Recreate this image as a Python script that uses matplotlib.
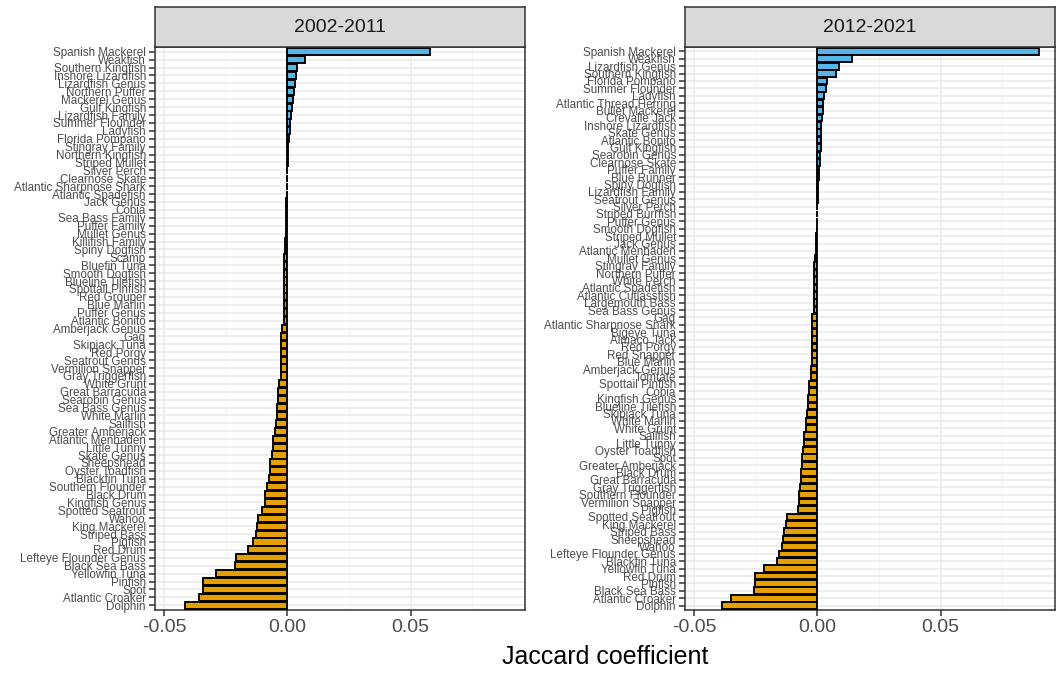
import matplotlib
matplotlib.use("Agg")
import matplotlib.pyplot as plt
import numpy as np

plt.rcParams['font.family'] = ['Liberation Sans', 'DejaVu Sans']

# ---------------- data ----------------
species_2002 = [
    "Spanish Mackerel", "Weakfish", "Southern Kingfish", "Inshore Lizardfish",
    "Lizardfish Genus", "Northern Puffer", "Mackerel Genus", "Gulf Kingfish",
    "Lizardfish Family", "Summer Flounder", "Ladyfish", "Florida Pompano",
    "Stingray Family", "Northern Kingfish", "Striped Mullet", "Silver Perch",
    "Clearnose Skate", "Atlantic Sharpnose Shark", "Atlantic Spadefish",
    "Jack Genus", "Cobia", "Sea Bass Family", "Puffer Family", "Mullet Genus",
    "Killifish Family", "Spiny Dogfish", "Scamp", "Bluefin Tuna",
    "Smooth Dogfish", "Blueline Tilefish", "Spottail Pinfish", "Red Grouper",
    "Blue Marlin", "Puffer Genus", "Atlantic Bonito", "Amberjack Genus", "Gag",
    "Skipjack Tuna", "Red Porgy", "Seatrout Genus", "Vermilion Snapper",
    "Gray Triggerfish", "White Grunt", "Great Barracuda", "Searobin Genus",
    "Sea Bass Genus", "White Marlin", "Sailfish", "Greater Amberjack",
    "Atlantic Menhaden", "Little Tunny", "Skate Genus", "Sheepshead",
    "Oyster Toadfish", "Blackfin Tuna", "Southern Flounder", "Black Drum",
    "Kingfish Genus", "Spotted Seatrout", "Wahoo", "King Mackerel",
    "Striped Bass", "Pigfish", "Red Drum", "Lefteye Flounder Genus",
    "Black Sea Bass", "Yellowfin Tuna", "Pinfish", "Spot", "Atlantic Croaker",
    "Dolphin",
]
jaccard_2002 = [
    0.0578, 0.0070, 0.0039, 0.0035, 0.0032, 0.0027, 0.0022, 0.0018,
    0.0016, 0.0011, 0.0009, 0.0005, 0.0003, 0.0002, 0.0001, 0.0000,
    -0.0001, -0.0002, -0.0003, -0.0004, -0.0005, -0.0005, -0.0006, -0.0007,
    -0.0008, -0.0009, -0.0012, -0.0015, -0.0015, -0.0015, -0.0015, -0.0015,
    -0.0015, -0.0015, -0.0016, -0.0023, -0.0025, -0.0025, -0.0026, -0.0026,
    -0.0027, -0.0028, -0.0035, -0.0038, -0.0038, -0.0042, -0.0043, -0.0047,
    -0.0049, -0.0059, -0.0059, -0.0061, -0.0070, -0.0072, -0.0074, -0.0082,
    -0.0092, -0.0092, -0.0103, -0.0119, -0.0123, -0.0126, -0.0139, -0.0162,
    -0.0209, -0.0214, -0.0292, -0.0341, -0.0343, -0.0358, -0.0416,
]

species_2012 = [
    "Spanish Mackerel", "Weakfish", "Lizardfish Genus", "Southern Kingfish",
    "Florida Pompano", "Summer Flounder", "Ladyfish", "Atlantic Thread Herring",
    "Bullet Mackerel", "Crevalle Jack", "Inshore Lizardfish", "Skate Genus",
    "Atlantic Bonito", "Gulf Kingfish", "Searobin Genus", "Clearnose Skate",
    "Puffer Family", "Blue Runner", "Spiny Dogfish", "Lizardfish Family",
    "Seatrout Genus", "Silver Perch", "Striped Burrfish", "Puffer Genus",
    "Smooth Dogfish", "Striped Mullet", "Jack Genus", "Atlantic Menhaden",
    "Mullet Genus", "Stingray Family", "Northern Puffer", "White Perch",
    "Atlantic Spadefish", "Atlantic Cutlassfish", "Largemouth Bass",
    "Sea Bass Genus", "Gag", "Atlantic Sharpnose Shark", "Bigeye Tuna",
    "Almaco Jack", "Red Porgy", "Red Snapper", "Blue Marlin", "Amberjack Genus",
    "Tomtate", "Spottail Pinfish", "Cobia", "Kingfish Genus",
    "Blueline Tilefish", "Skipjack Tuna", "White Marlin", "White Grunt",
    "Sailfish", "Little Tunny", "Oyster Toadfish", "Spot", "Greater Amberjack",
    "Black Drum", "Great Barracuda", "Gray Triggerfish", "Southern Flounder",
    "Vermilion Snapper", "Pigfish", "Spotted Seatrout", "King Mackerel",
    "Striped Bass", "Sheepshead", "Wahoo", "Lefteye Flounder Genus",
    "Blackfin Tuna", "Yellowfin Tuna", "Red Drum", "Pinfish", "Black Sea Bass",
    "Atlantic Croaker", "Dolphin",
]
jaccard_2012 = [
    0.0900, 0.0142, 0.0089, 0.0074, 0.0038, 0.0036, 0.0027, 0.0022,
    0.0022, 0.0018, 0.0015, 0.0015, 0.0015, 0.0015, 0.0011, 0.0009,
    0.0007, 0.0005, 0.0003, 0.0002, 0.0001, 0.0000, -0.0001, -0.0002,
    -0.0003, -0.0004, -0.0005, -0.0006, -0.0008, -0.0013, -0.0015, -0.0016,
    -0.0016, -0.0016, -0.0016, -0.0016, -0.0022, -0.0022, -0.0022, -0.0024,
    -0.0024, -0.0024, -0.0024, -0.0027, -0.0027, -0.0034, -0.0034, -0.0038,
    -0.0038, -0.0042, -0.0046, -0.0046, -0.0053, -0.0053, -0.0057, -0.0061,
    -0.0062, -0.0065, -0.0068, -0.0072, -0.0073, -0.0074, -0.0077, -0.0122,
    -0.0128, -0.0134, -0.0138, -0.0142, -0.0155, -0.0164, -0.0218, -0.0254,
    -0.0254, -0.0257, -0.0351, -0.0389,
]

panels = [("2002-2011", species_2002, jaccard_2002),
          ("2012-2021", species_2012, jaccard_2012)]

x_ticks = [-0.05, 0.00, 0.05]
x_tick_labels = ["-0.05", "0.00", "0.05"]
x_minor = [-0.025, 0.025, 0.075]

POS_COLOR = "#56B4E9"
NEG_COLOR = "#E69F00"

W, H = 1064, 673
fig = plt.figure(figsize=(W / 100, H / 100), dpi=100)
fig.patch.set_facecolor("white")

def px(x0, y0, x1, y1):
    return [x0 / W, 1 - y1 / H, (x1 - x0) / W, (y1 - y0) / H]

panel_px = [(155, 47, 525, 610), (685, 47, 1055, 610)]
strip_top = 7

for (title, names, vals), (x0, y0, x1, y1) in zip(panels, panel_px):
    ax = fig.add_axes(px(x0, y0, x1, y1))
    n = len(names)
    ypos = np.arange(n)
    colors = [POS_COLOR if v > 0 else NEG_COLOR for v in vals]
    ax.barh(ypos, vals, height=0.9, color=colors, edgecolor="black",
            linewidth=1.35, zorder=3)
    ax.set_ylim(n - 0.4, -0.6)
    ax.set_xlim(-0.0538, 0.0965)
    ax.set_yticks(ypos)
    ax.set_yticklabels(names, fontsize=8.4, color="#4D4D4D")
    ax.set_xticks(x_ticks)
    ax.set_xticklabels(x_tick_labels, fontsize=14, color="#4D4D4D")
    ax.set_xticks(x_minor, minor=True)
    ax.tick_params(axis="both", which="major", length=4.5, width=1.1,
                   color="#333333", pad=2)
    ax.tick_params(axis="x", which="minor", length=0)
    ax.grid(True, which="major", color="#EBEBEB", linewidth=1.2, zorder=0)
    ax.grid(True, which="minor", axis="x", color="#F2F2F2", linewidth=0.6,
            zorder=0)
    ax.set_axisbelow(True)
    for sp in ax.spines.values():
        sp.set_color("#333333")
        sp.set_linewidth(1.1)

    sax = fig.add_axes(px(x0, strip_top, x1, y0))
    sax.set_xticks([])
    sax.set_yticks([])
    sax.set_facecolor("#D9D9D9")
    for sp in sax.spines.values():
        sp.set_color("#333333")
        sp.set_linewidth(1.1)
    sax.text(0.5, 0.5, title, ha="center", va="center", fontsize=14,
             color="#1A1A1A", transform=sax.transAxes)

fig.text(605 / W, 1 - 657 / H, "Jaccard coefficient", ha="center",
         va="center", fontsize=18, color="black")

fig.savefig("out.png", dpi=100)
